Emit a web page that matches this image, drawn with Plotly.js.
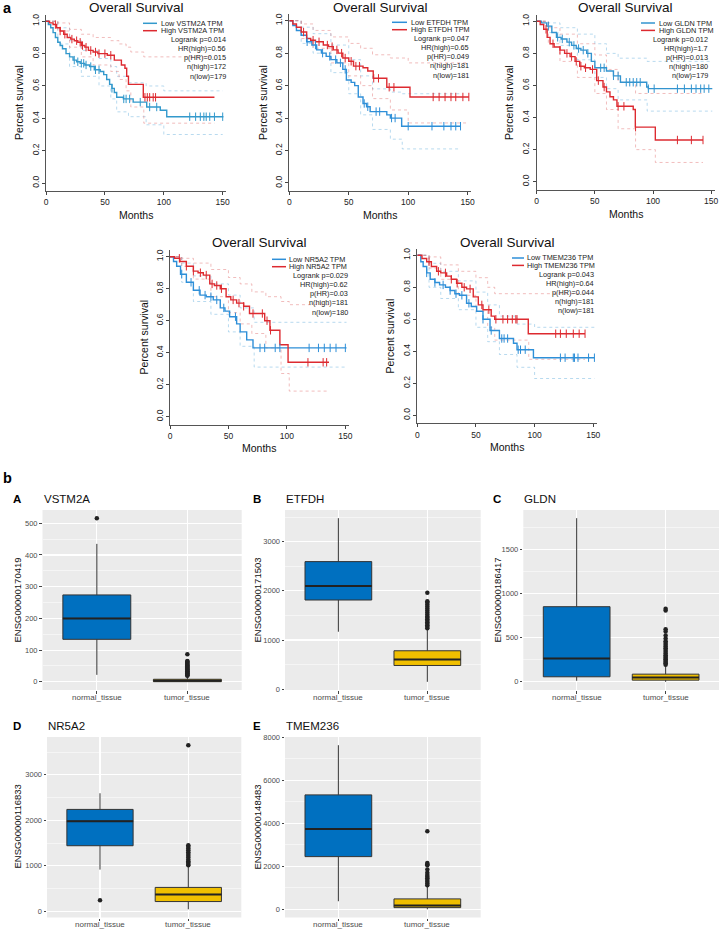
<!DOCTYPE html>
<html><head><meta charset="utf-8">
<script src="https://cdn.plot.ly/plotly-3.0.1.min.js"></script>
<style>html,body{margin:0;padding:0;background:#fff}#chart{width:720px;height:930px}</style>
</head><body><div id="chart"></div>
<script>
// ---------------- Survival data (months, survival probability) ----------------
const survGenes = ['VSTM2A', 'ETFDH', 'GLDN', 'NR5A2', 'TMEM236'];
const logrankP = ['0.014', '0.047', '0.012', '0.029', '0.043'];
const hrHigh = ['0.56', '0.65', '1.7', '0.62', '0.64'];
const pHR = ['0.015', '0.049', '0.013', '0.03', '0.044'];
const nHigh = [172, 181, 180, 181, 181];
const nLow = [179, 181, 179, 180, 181];
const yTicks = [0, 0.2, 0.4, 0.6, 0.8, 1.0];
const yTickText = ['0.0', '0.2', '0.4', '0.6', '0.8', '1.0'];
const xTicks = [0, 50, 100, 150];

// VSTM2A
const vstm2aHighT = [0,3,6,9,12,15,18,21,24,27,30,33,36,40,44,48,52,56,58,62,64,67,68.5,70,82.6,143];
const vstm2aHighS = [1,0.99,0.98,0.96,0.94,0.92,0.90,0.89,0.88,0.87,0.85,0.84,0.82,0.81,0.80,0.80,0.79,0.79,0.76,0.76,0.73,0.71,0.66,0.61,0.53,0.53];
const vstm2aLowT = [0,2,4,6,8,10,12,14,17,20,23,26,29,33,37,41,46,49,51.5,54,56,58,60,65.7,74,85.5,97,102.5,150.6];
const vstm2aLowS = [1,0.98,0.96,0.93,0.90,0.87,0.85,0.83,0.80,0.78,0.76,0.75,0.74,0.73,0.72,0.70,0.69,0.67,0.64,0.61,0.585,0.56,0.53,0.52,0.50,0.47,0.45,0.41,0.41];
const vstm2aHighCens = [8,12,16,22,26,29,31,34,38,42,45,50,55,84,86,88,91,93];
const vstm2aLowCens = [24,27,30,32,34,38,42,45,56,66,68,71,80,88,94,122,127,131,134,136,139,143,150];
const vstm2aHighCiT = [0,10,20,30,40,55,62,68,72,83,143];
const vstm2aHighUp = [1,0.99,0.95,0.92,0.90,0.88,0.86,0.84,0.81,0.78,0.78];
const vstm2aHighLo = [1,0.94,0.84,0.78,0.73,0.69,0.64,0.57,0.47,0.37,0.37];
const vstm2aLowCiT = [0,10,20,30,45,55,60,70,85,100,150];
const vstm2aLowUp = [1,0.96,0.88,0.82,0.77,0.72,0.66,0.62,0.60,0.57,0.57];
const vstm2aLowLo = [1,0.86,0.72,0.66,0.60,0.52,0.44,0.41,0.36,0.30,0.30];

// ETFDH
const etfdhHighT = [0,3,6,10,14.6,18,22,28.6,33,37,41,45,50,54,62,66,70.6,82,101.5,151];
const etfdhHighS = [1,0.98,0.96,0.93,0.89,0.88,0.87,0.85,0.84,0.82,0.80,0.77,0.75,0.72,0.71,0.69,0.645,0.59,0.53,0.53];
const etfdhLowT = [0,3,6,10,14.6,19,23,27,31,35,40,45,48,52,55,58,62,65,68,82,85,94.5,144];
const etfdhLowS = [1,0.97,0.94,0.91,0.87,0.85,0.82,0.80,0.78,0.76,0.74,0.70,0.635,0.62,0.60,0.53,0.49,0.47,0.44,0.42,0.40,0.35,0.35];
const etfdhHighCens = [12,20,25,32,36,40,44,47,52,56,59,71,75,84,88,121,126,131,136,140,146,151];
const etfdhLowCens = [15,22,28,34,39,43,47,63,66,73,76,86,89,100,120,130,136,140,144];
const etfdhHighCiT = [0,10,20,35,50,60,70,85,100,151];
const etfdhHighUp = [1,0.98,0.94,0.90,0.86,0.83,0.79,0.77,0.74,0.74];
const etfdhHighLo = [1,0.89,0.83,0.74,0.66,0.60,0.52,0.45,0.37,0.37];
const etfdhLowCiT = [0,10,20,35,50,60,70,85,95,144];
const etfdhLowUp = [1,0.96,0.92,0.85,0.76,0.66,0.58,0.56,0.55,0.55];
const etfdhLowLo = [1,0.86,0.80,0.68,0.55,0.42,0.33,0.27,0.21,0.21];

// GLDN
const gldnHighT = [0,3,6,9,11.5,15,20,24,28.7,33,37,41,46,51.6,57,60,63,66,69,83,84.8,102,143];
const gldnHighS = [1,0.98,0.95,0.90,0.86,0.84,0.82,0.80,0.78,0.75,0.72,0.71,0.70,0.63,0.59,0.56,0.53,0.51,0.47,0.45,0.34,0.26,0.26];
const gldnLowT = [0,4,8.6,13,17,21,26,30,34,38,43,47,50,60,66,72,94.6,96,151];
const gldnLowS = [1,0.99,0.97,0.93,0.90,0.89,0.87,0.85,0.83,0.82,0.80,0.75,0.71,0.69,0.66,0.62,0.59,0.58,0.58];
const gldnHighCens = [8,14,20,26,30,34,38,42,48,53,58,70,75,85,121,133,143];
const gldnLowCens = [10,18,22,28,32,36,40,44,55,58,66,70,77,80,83,86,89,96,101,121,127,133,137,141,144,148];
const gldnHighCiT = [0,10,20,35,50,60,70,85,102,143];
const gldnHighUp = [1,0.96,0.92,0.86,0.79,0.70,0.62,0.55,0.55,0.55];
const gldnHighLo = [1,0.86,0.75,0.65,0.55,0.45,0.33,0.20,0.12,0.12];
const gldnLowCiT = [0,10,20,35,50,60,70,95,151];
const gldnLowUp = [1,0.99,0.96,0.92,0.86,0.80,0.77,0.75,0.75];
const gldnLowLo = [1,0.93,0.85,0.76,0.65,0.58,0.51,0.44,0.44];

// NR5A2
const nr5a2HighT = [0,4,8.5,14,20,24,28.5,34,38,43,48,52,57,63,68,81,85.5,94,101,136];
const nr5a2HighS = [1,0.99,0.97,0.94,0.91,0.90,0.885,0.83,0.82,0.80,0.75,0.73,0.71,0.69,0.645,0.60,0.54,0.45,0.34,0.34];
const nr5a2LowT = [0,3,5.7,9,14,20,25.7,31,37,43,47,51,57,60,65.6,71,151];
const nr5a2LowS = [1,0.97,0.94,0.89,0.84,0.79,0.76,0.75,0.73,0.68,0.66,0.625,0.58,0.53,0.48,0.43,0.43];
const nr5a2HighCens = [8,14,20,26,31,36,40,44,54,59,63,71,79,83,86,118,131,134];
const nr5a2LowCens = [10,18,25,30,35,40,46,56,77,81,90,94,119,127,132,137,142,150];
const nr5a2HighCiT = [0,10,20,35,50,60,70,82,95,102,136];
const nr5a2HighUp = [1,0.99,0.96,0.92,0.87,0.83,0.78,0.75,0.72,0.70,0.70];
const nr5a2HighLo = [1,0.94,0.86,0.75,0.65,0.58,0.52,0.43,0.27,0.16,0.16];
const nr5a2LowCiT = [0,10,20,35,50,60,72,151];
const nr5a2LowUp = [1,0.96,0.88,0.83,0.76,0.68,0.59,0.59];
const nr5a2LowLo = [1,0.84,0.72,0.64,0.53,0.44,0.31,0.31];

// TMEM236
const tmem236HighT = [0,4,8,12,16.5,20,25,29,33.5,38,42,47.7,52,56,63,66,94.6,143];
const tmem236HighS = [1,0.98,0.96,0.93,0.90,0.89,0.87,0.85,0.825,0.80,0.79,0.74,0.69,0.66,0.62,0.60,0.51,0.51];
const tmem236LowT = [0,3,5,8,11,15,19,24,28,32,36,42,46,50.6,56,62,70,82,85,99,151];
const tmem236LowS = [1,0.96,0.93,0.89,0.85,0.83,0.815,0.80,0.78,0.76,0.75,0.70,0.68,0.65,0.60,0.53,0.48,0.45,0.41,0.36,0.36];
const tmem236HighCens = [10,18,24,29,34,40,45,55,61,67,73,77,81,84,85,118,122,127,133,138,143];
const tmem236LowCens = [8,15,22,28,33,38,44,56,63,72,74,77,86,88,92,122,126,133,134,137,146,151];
const tmem236HighCiT = [0,10,20,35,50,60,66,95,143];
const tmem236HighUp = [1,0.99,0.94,0.90,0.86,0.80,0.76,0.76,0.76];
const tmem236HighLo = [1,0.92,0.85,0.75,0.65,0.55,0.47,0.35,0.35];
const tmem236LowCiT = [0,10,20,35,50,60,70,85,100,151];
const tmem236LowUp = [1,0.95,0.90,0.84,0.77,0.69,0.62,0.57,0.55,0.55];
const tmem236LowLo = [1,0.80,0.73,0.66,0.55,0.46,0.38,0.30,0.23,0.23];

// ---------------- Box plot data (expression) ----------------
const boxLetters = ['A', 'B', 'C', 'D', 'E'];
const boxGenes = ['VSTM2A', 'ETFDH', 'GLDN', 'NR5A2', 'TMEM236'];
const boxIds = ['ENSG00000170419', 'ENSG00000171503', 'ENSG00000186417', 'ENSG00000116833', 'ENSG00000148483'];
const tissues = ['normal_tissue', 'tumor_tissue'];
const normalLo  = [22, 1168, 12, 916, 375];
const normalQ1  = [134, 1813, 57, 1441, 2453];
const normalMed = [200, 2098, 265, 1981, 3734];
const normalQ3  = [274, 2593, 852, 2239, 5328];
const normalHi  = [435, 3476, 1856, 2594, 7641];
const tumorLo   = [0, 150, 0, 44, 0];
const tumorQ1   = [0.5, 482, 19, 214, 78];
const tumorMed  = [3, 604, 49, 370, 172];
const tumorQ3   = [8, 781, 87, 525, 484];
const tumorHi   = [18, 1215, 189, 990, 1060];
const normalOut = [[516], [], [], [244], []];
const tumorOut = [
  [19,21,23,25,27,29,31,33,35,37,40,43,46,49,52,55,58,61,64,66,87],
  [1240,1270,1300,1330,1360,1390,1420,1450,1480,1520,1560,1600,1640,1680,1720,1760,1790,1960],
  [195,210,225,240,255,270,285,300,320,340,360,380,400,420,440,460,490,525,570,595,810,830],
  [1010,1040,1070,1100,1140,1180,1220,1260,1300,1340,1380,1420,1450,3650],
  [1120,1200,1280,1360,1440,1520,1600,1700,1850,2050,2100,2150,3640]
];
const boxDtick = [100, 1000, 500, 1000, 2000];

// ---------------- Build ----------------
const W = 720, H = 930;
const FONT = 'Liberation Sans, Arial, sans-serif';
const RED = '#DD2A30', BLUE = '#2E8FD8';
const RED_CI = 'rgba(226,120,120,0.55)', BLUE_CI = 'rgba(110,180,222,0.55)';
const px = p => p / W, py = p => 1 - p / H;

const survData = [
  {hT: vstm2aHighT, hS: vstm2aHighS, lT: vstm2aLowT, lS: vstm2aLowS, hC: vstm2aHighCens, lC: vstm2aLowCens,
   hCiT: vstm2aHighCiT, hUp: vstm2aHighUp, hLo: vstm2aHighLo, lCiT: vstm2aLowCiT, lUp: vstm2aLowUp, lLo: vstm2aLowLo},
  {hT: etfdhHighT, hS: etfdhHighS, lT: etfdhLowT, lS: etfdhLowS, hC: etfdhHighCens, lC: etfdhLowCens,
   hCiT: etfdhHighCiT, hUp: etfdhHighUp, hLo: etfdhHighLo, lCiT: etfdhLowCiT, lUp: etfdhLowUp, lLo: etfdhLowLo},
  {hT: gldnHighT, hS: gldnHighS, lT: gldnLowT, lS: gldnLowS, hC: gldnHighCens, lC: gldnLowCens,
   hCiT: gldnHighCiT, hUp: gldnHighUp, hLo: gldnHighLo, lCiT: gldnLowCiT, lUp: gldnLowUp, lLo: gldnLowLo},
  {hT: nr5a2HighT, hS: nr5a2HighS, lT: nr5a2LowT, lS: nr5a2LowS, hC: nr5a2HighCens, lC: nr5a2LowCens,
   hCiT: nr5a2HighCiT, hUp: nr5a2HighUp, hLo: nr5a2HighLo, lCiT: nr5a2LowCiT, lUp: nr5a2LowUp, lLo: nr5a2LowLo},
  {hT: tmem236HighT, hS: tmem236HighS, lT: tmem236LowT, lS: tmem236LowS, hC: tmem236HighCens, lC: tmem236LowCens,
   hCiT: tmem236HighCiT, hUp: tmem236HighUp, hLo: tmem236HighLo, lCiT: tmem236LowCiT, lUp: tmem236LowUp, lLo: tmem236LowLo}
];

// pixel geometry of each survival panel; legend = [lineStart, lineEnd, textStart, textRight, firstRow]
const survGeom = [
  {x0: 46,    ppm: 1.178, y1: 21.3,  y0: 183,   leg: [143, 157, 159.5, 227, 23.3], title: 7,   months: 215, blue: '#3399CC'},
  {x0: 289.3, ppm: 1.189, y1: 20.7,  y0: 183,   leg: [392, 407, 409.5, 470, 22.3], title: 7,   months: 215, blue: '#2E8FD8'},
  {x0: 536.7, ppm: 1.163, y1: 21.3,  y0: 181.7, leg: [641, 655, 658, 709, 23],     title: 7,   months: 214, blue: '#3394CF'},
  {x0: 170,   ppm: 1.169, y1: 256.7, y0: 416.7, leg: [272, 286, 288, 349, 259.3],  title: 243, months: 448, blue: '#2E8FD8'},
  {x0: 417.3, ppm: 1.173, y1: 255.3, y0: 415.3, leg: [512, 524, 526, 595, 258],    title: 243, months: 447, blue: '#2E8FD8'}
];

const stepAt = (t, s, x) => { let v = s[0]; for (let i = 0; i < t.length; i++) if (t[i] <= x) v = s[i]; return v; };

const traces = [], shapes = [], annotations = [];
const layout = {
  width: W, height: H, margin: {l: 0, r: 0, t: 0, b: 0},
  paper_bgcolor: '#fff', plot_bgcolor: 'rgba(0,0,0,0)', showlegend: false,
  font: {family: FONT, color: '#222'}
};

const ann = (o) => annotations.push(Object.assign({xref: 'paper', yref: 'paper', showarrow: false, borderpad: 0,
  font: {family: FONT, size: 8, color: '#222'}}, o));

survData.forEach((d, i) => {
  const g = survGeom[i];
  const BL = g.blue;
  const k = i + 1, sfx = k === 1 ? '' : String(k);
  const xa = 'x' + sfx, ya = 'y' + sfx;
  const h = g.y0 - g.y1;
  const xRight = g.x0 + 153 * g.ppm;
  layout['xaxis' + sfx] = {
    domain: [px(g.x0), px(xRight)], range: [0, 153], anchor: ya,
    tickvals: xTicks, ticks: 'outside', ticklen: 3, tickcolor: '#444',
    showline: true, linecolor: '#555', linewidth: 1, showgrid: false, zeroline: false,
    tickfont: {family: FONT, size: 8.5, color: '#222'}, fixedrange: true
  };
  layout['yaxis' + sfx] = {
    domain: [py(g.y0 + 0.05 * h), py(g.y1 - 0.04 * h)], range: [-0.05, 1.04], anchor: xa,
    tickvals: yTicks, ticktext: yTickText, tickangle: -90, ticks: 'outside', ticklen: 3, tickcolor: '#444',
    showline: true, linecolor: '#555', linewidth: 1, showgrid: false, zeroline: false,
    tickfont: {family: FONT, size: 8.5, color: '#222'}, fixedrange: true
  };
  const ci = (t, y, c) => traces.push({type: 'scatter', mode: 'lines', x: t, y: y, xaxis: xa, yaxis: ya,
    line: {shape: 'hv', color: c, width: 0.9, dash: 'dot'}, hoverinfo: 'skip'});
  ci(d.lCiT, d.lUp, BLUE_CI); ci(d.lCiT, d.lLo, BLUE_CI);
  ci(d.hCiT, d.hUp, RED_CI); ci(d.hCiT, d.hLo, RED_CI);
  traces.push({type: 'scatter', mode: 'lines', x: d.lT, y: d.lS, xaxis: xa, yaxis: ya, line: {shape: 'hv', color: BL, width: 1.4}});
  traces.push({type: 'scatter', mode: 'lines', x: d.hT, y: d.hS, xaxis: xa, yaxis: ya, line: {shape: 'hv', color: RED, width: 1.4}});
  traces.push({type: 'scatter', mode: 'markers', x: d.lC, y: d.lC.map(c => stepAt(d.lT, d.lS, c)), xaxis: xa, yaxis: ya,
    marker: {symbol: 'line-ns', size: 6, line: {color: BL, width: 1}}});
  traces.push({type: 'scatter', mode: 'markers', x: d.hC, y: d.hC.map(c => stepAt(d.hT, d.hS, c)), xaxis: xa, yaxis: ya,
    marker: {symbol: 'line-ns', size: 6, line: {color: RED, width: 1}}});

  const cx = (g.x0 + xRight) / 2;
  ann({x: px(cx), y: py(g.title), text: 'Overall Survival', xanchor: 'center', yanchor: 'middle', font: {family: FONT, size: 13.5, color: '#111'}});
  ann({x: px(cx), y: py(g.months), text: 'Months', xanchor: 'center', yanchor: 'middle', font: {family: FONT, size: 10.5, color: '#111'}});
  ann({x: px(g.x0 - 27), y: py((g.y0 + 0.05 * h + g.y1 - 0.04 * h) / 2), text: 'Percent survival', textangle: -90,
    xanchor: 'center', yanchor: 'middle', font: {family: FONT, size: 10.5, color: '#111'}});
  // legend
  const [ls, le, ts, tr, r0] = g.leg;
  const offs = [0, 7.4, 16.6, 25.6, 34.6, 43.6, 52.8];
  const lines = ['Low ' + survGenes[i] + ' TPM', 'High ' + survGenes[i] + ' TPM', 'Logrank p=' + logrankP[i],
    'HR(high)=' + hrHigh[i], 'p(HR)=' + pHR[i], 'n(high)=' + nHigh[i], 'n(low)=' + nLow[i]];
  lines.forEach((t, j) => ann({x: px(j < 2 ? ts : tr), y: py(r0 + offs[j]), text: t, xanchor: j < 2 ? 'left' : 'right', yanchor: 'middle',
    font: {family: FONT, size: 7.3, color: '#222'}}));
  [[BL, 0], [RED, 1]].forEach(([c, j]) => shapes.push({type: 'line', xref: 'paper', yref: 'paper',
    x0: px(ls), x1: px(le), y0: py(r0 + offs[j]), y1: py(r0 + offs[j]), line: {color: c, width: 1.5}}));
});

// box panels geometry
const boxGeom = [
  {l: 42.5, r: 241.7, t: 510, b: 690,   cx: 0,   ty: 499.3, yt: 600},
  {l: 285,  r: 480.7, t: 510, b: 690,   cx: 240, ty: 499.3, yt: 600},
  {l: 523.3, r: 719,  t: 510, b: 690,   cx: 480, ty: 499.3, yt: 600},
  {l: 47,   r: 241.3, t: 737, b: 917.5, cx: 0,   ty: 726,   yt: 827},
  {l: 285,  r: 480.7, t: 737, b: 917.5, cx: 240, ty: 726,   yt: 827}
];
const BOXW = 0.75;
boxGenes.forEach((gname, i) => {
  const g = boxGeom[i];
  const k = i + 6, xa = 'x' + k, ya = 'y' + k;
  const all = [normalLo[i], normalHi[i], tumorLo[i], tumorHi[i]].concat(normalOut[i], tumorOut[i]);
  const mn = Math.min(...all), mx = Math.max(...all), ex = 0.05 * (mx - mn);
  layout['xaxis' + k] = {
    domain: [px(g.l), px(g.r)], range: [-0.6, 1.6], anchor: ya,
    tickvals: [0, 1], showticklabels: false, ticks: 'outside', ticklen: 2.5, tickcolor: '#444',
    showgrid: true, gridcolor: '#fff', gridwidth: 1.1, zeroline: false, showline: false, fixedrange: true
  };
  layout['yaxis' + k] = {
    domain: [py(g.b), py(g.t)], range: [mn - ex, mx + ex], anchor: xa,
    dtick: boxDtick[i], tick0: 0, ticks: 'outside', ticklen: 2.5, tickcolor: '#444',
    showgrid: true, gridcolor: '#fff', gridwidth: 1.1, zeroline: false, showline: false,
    minor: {dtick: boxDtick[i] / 2, tick0: 0, showgrid: true, gridcolor: '#fff', gridwidth: 0.5, ticks: ''},
    tickfont: {family: FONT, size: 7.5, color: '#4D4D4D'}, fixedrange: true
  };
  shapes.push({type: 'rect', xref: xa + ' domain', yref: ya + ' domain', x0: 0, x1: 1, y0: 0, y1: 1,
    fillcolor: '#EBEBEB', line: {width: 0}, layer: 'below'});
  const groups = [
    {pos: 0, lo: normalLo[i], q1: normalQ1[i], med: normalMed[i], q3: normalQ3[i], hi: normalHi[i], out: normalOut[i], fill: '#0070C0'},
    {pos: 1, lo: tumorLo[i], q1: tumorQ1[i], med: tumorMed[i], q3: tumorQ3[i], hi: tumorHi[i], out: tumorOut[i], fill: '#F0BF00'}
  ];
  groups.forEach(gr => {
    traces.push({type: 'box', x: [gr.pos], q1: [gr.q1], median: [gr.med], q3: [gr.q3], lowerfence: [gr.lo], upperfence: [gr.hi],
      xaxis: xa, yaxis: ya, width: BOXW, fillcolor: gr.fill, line: {color: '#333', width: 1}, boxpoints: false, whiskerwidth: 0});
    traces.push({type: 'scatter', mode: 'lines', x: [gr.pos - BOXW / 2, gr.pos + BOXW / 2], y: [gr.med, gr.med],
      xaxis: xa, yaxis: ya, line: {color: '#222', width: 2}, hoverinfo: 'skip'});
    if (gr.out.length) traces.push({type: 'scatter', mode: 'markers', x: gr.out.map(() => gr.pos), y: gr.out,
      xaxis: xa, yaxis: ya, marker: {color: '#222', size: 4.5}});
    annotations.push({xref: xa, yref: 'paper', x: gr.pos, y: py(g.b + 7), text: tissues[gr.pos], showarrow: false,
      xanchor: 'center', yanchor: 'middle', borderpad: 0, font: {family: FONT, size: 8, color: '#4D4D4D'}});
  });
  ann({x: px(g.cx + 17), y: py(g.ty), text: '<b>' + boxLetters[i] + '</b>', xanchor: 'center', yanchor: 'middle',
    font: {family: FONT, size: 11.5, color: '#000'}});
  ann({x: px(g.l), y: py(g.ty), text: gname, xanchor: 'left', yanchor: 'middle', font: {family: FONT, size: 11.5, color: '#111'}});
  ann({x: px(g.cx + 16.5), y: py(g.yt), text: boxIds[i], textangle: -90, xanchor: 'center', yanchor: 'middle',
    font: {family: FONT, size: 9.5, color: '#111'}});
});

ann({x: px(2), y: py(8), text: '<b>a</b>', xanchor: 'left', yanchor: 'middle', font: {family: FONT, size: 14.5, color: '#000'}});
ann({x: px(2), y: py(478), text: '<b>b</b>', xanchor: 'left', yanchor: 'middle', font: {family: FONT, size: 14.5, color: '#000'}});

layout.shapes = shapes;
layout.annotations = annotations;
Plotly.newPlot('chart', traces, layout, {displayModeBar: false, staticPlot: true});
</script></body></html>
